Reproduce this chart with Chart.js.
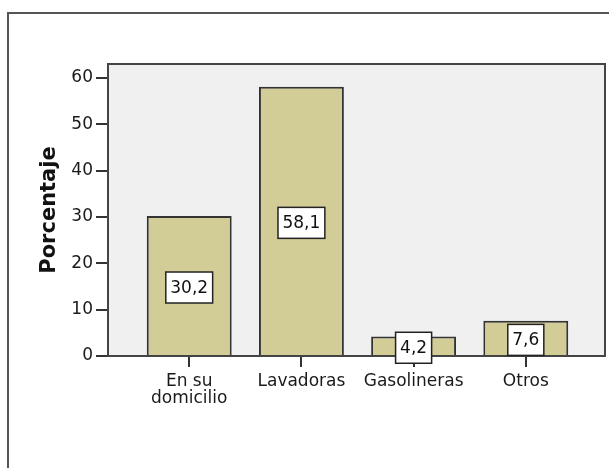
<!DOCTYPE html>
<html>
<head>
<meta charset="utf-8">
<script src="https://cdn.jsdelivr.net/npm/chart.js@4.4.1/dist/chart.umd.min.js"></script>
<style>
  html, body { margin: 0; padding: 0; background: #fff; overflow: hidden; }
  #frame { position: absolute; left: 7px; top: 12px; width: 620px; height: 480px; border: 2px solid #555; }
  #chart { position: absolute; left: 0; top: 0; }
</style>
</head>
<body>
<div id="frame"></div>
<canvas id="chart" width="609" height="468"></canvas>
<script>
// --- Data ---
const categories = [['En su', 'domicilio'], 'Lavadoras', 'Gasolineras', 'Otros'];
const percentages = [30.2, 58.1, 4.2, 7.6];
const yTicks = [0, 10, 20, 30, 40, 50, 60];
const yTitle = 'Porcentaje';

const FONT = 'DejaVu Sans';

// fond gris + cadre du graphique
const plotFrame = {
    id: 'plotFrame',
    beforeDatasetsDraw(chart) {
        const { ctx, chartArea: a } = chart;
        ctx.save();
        ctx.fillStyle = '#f0f0f0';
        ctx.fillRect(a.left, a.top, a.right - a.left, a.bottom - a.top);
        ctx.strokeStyle = '#444';
        ctx.lineWidth = 2;
        ctx.strokeRect(a.left, a.top, a.right - a.left, a.bottom - a.top);
        ctx.restore();
    }
};

// étiquettes de valeur dans une boîte blanche au milieu de la barre
const valueBoxes = {
    id: 'valueBoxes',
    afterDatasetsDraw(chart) {
        const { ctx } = chart;
        const meta = chart.getDatasetMeta(0);
        ctx.save();
        ctx.font = `17px "${FONT}"`;
        ctx.textAlign = 'center';
        ctx.textBaseline = 'middle';
        meta.data.forEach((bar, i) => {
            const { x, y, base } = bar.getProps(['x', 'y', 'base'], true);
            const txt = percentages[i].toFixed(1).replace('.', ',');
            const w = ctx.measureText(txt).width + 9;
            const h = 31;
            const cy = (y + base) / 2 + 2;
            ctx.fillStyle = '#fff';
            ctx.fillRect(x - w / 2, cy - h / 2, w, h);
            ctx.strokeStyle = '#222';
            ctx.lineWidth = 1.5;
            ctx.strokeRect(x - w / 2, cy - h / 2, w, h);
            ctx.fillStyle = '#111';
            ctx.fillText(txt, x, cy + 1);
        });
        ctx.restore();
    }
};

new Chart(document.getElementById('chart'), {
    type: 'bar',
    data: {
        datasets: [{
            data: percentages.map((v, i) => ({ x: i, y: v })),
            backgroundColor: '#d2cd97',
            borderColor: '#333',
            borderWidth: 2,
            barPercentage: 0.757,
            categoryPercentage: 1
        }]
    },
    options: {
        responsive: false,
        animation: false,
        devicePixelRatio: 1,
        layout: { padding: { top: 64, right: 4, left: 0, bottom: 0 } },
        plugins: { legend: { display: false }, tooltip: { enabled: false } },
        scales: {
            x: {
                type: 'linear',
                offset: false,
                min: -0.724,
                max: 3.706,
                afterBuildTicks: (s) => { s.ticks = categories.map((c, i) => ({ value: i })); },
                afterFit: (s) => { s.height = 112; },
                border: { display: false },
                grid: { offset: false, drawOnChartArea: false, drawTicks: true, tickLength: 11, color: '#333', lineWidth: 2 },
                ticks: {
                    autoSkip: false,
                    maxRotation: 0,
                    padding: 6,
                    color: '#1a1a1a',
                    font: { family: FONT, size: 17, lineHeight: 1.0 },
                    callback: (v) => categories[v]
                }
            },
            y: {
                min: 0,
                max: 63.0,
                afterBuildTicks: (s) => { s.ticks = yTicks.map(v => ({ value: v })); },
                afterFit: (s) => { s.width = 108; },
                border: { display: false },
                grid: { drawOnChartArea: false, drawTicks: true, tickLength: 12, color: '#333', lineWidth: 2 },
                ticks: {
                    padding: 3,
                    color: '#1a1a1a',
                    font: { family: FONT, size: 17 }
                },
                title: {
                    display: true,
                    text: yTitle,
                    color: '#111',
                    padding: { top: 37, bottom: 0 },
                    font: { family: FONT, size: 21, weight: 'bold' }
                }
            }
        }
    },
    plugins: [plotFrame, valueBoxes]
});
</script>
</body>
</html>
